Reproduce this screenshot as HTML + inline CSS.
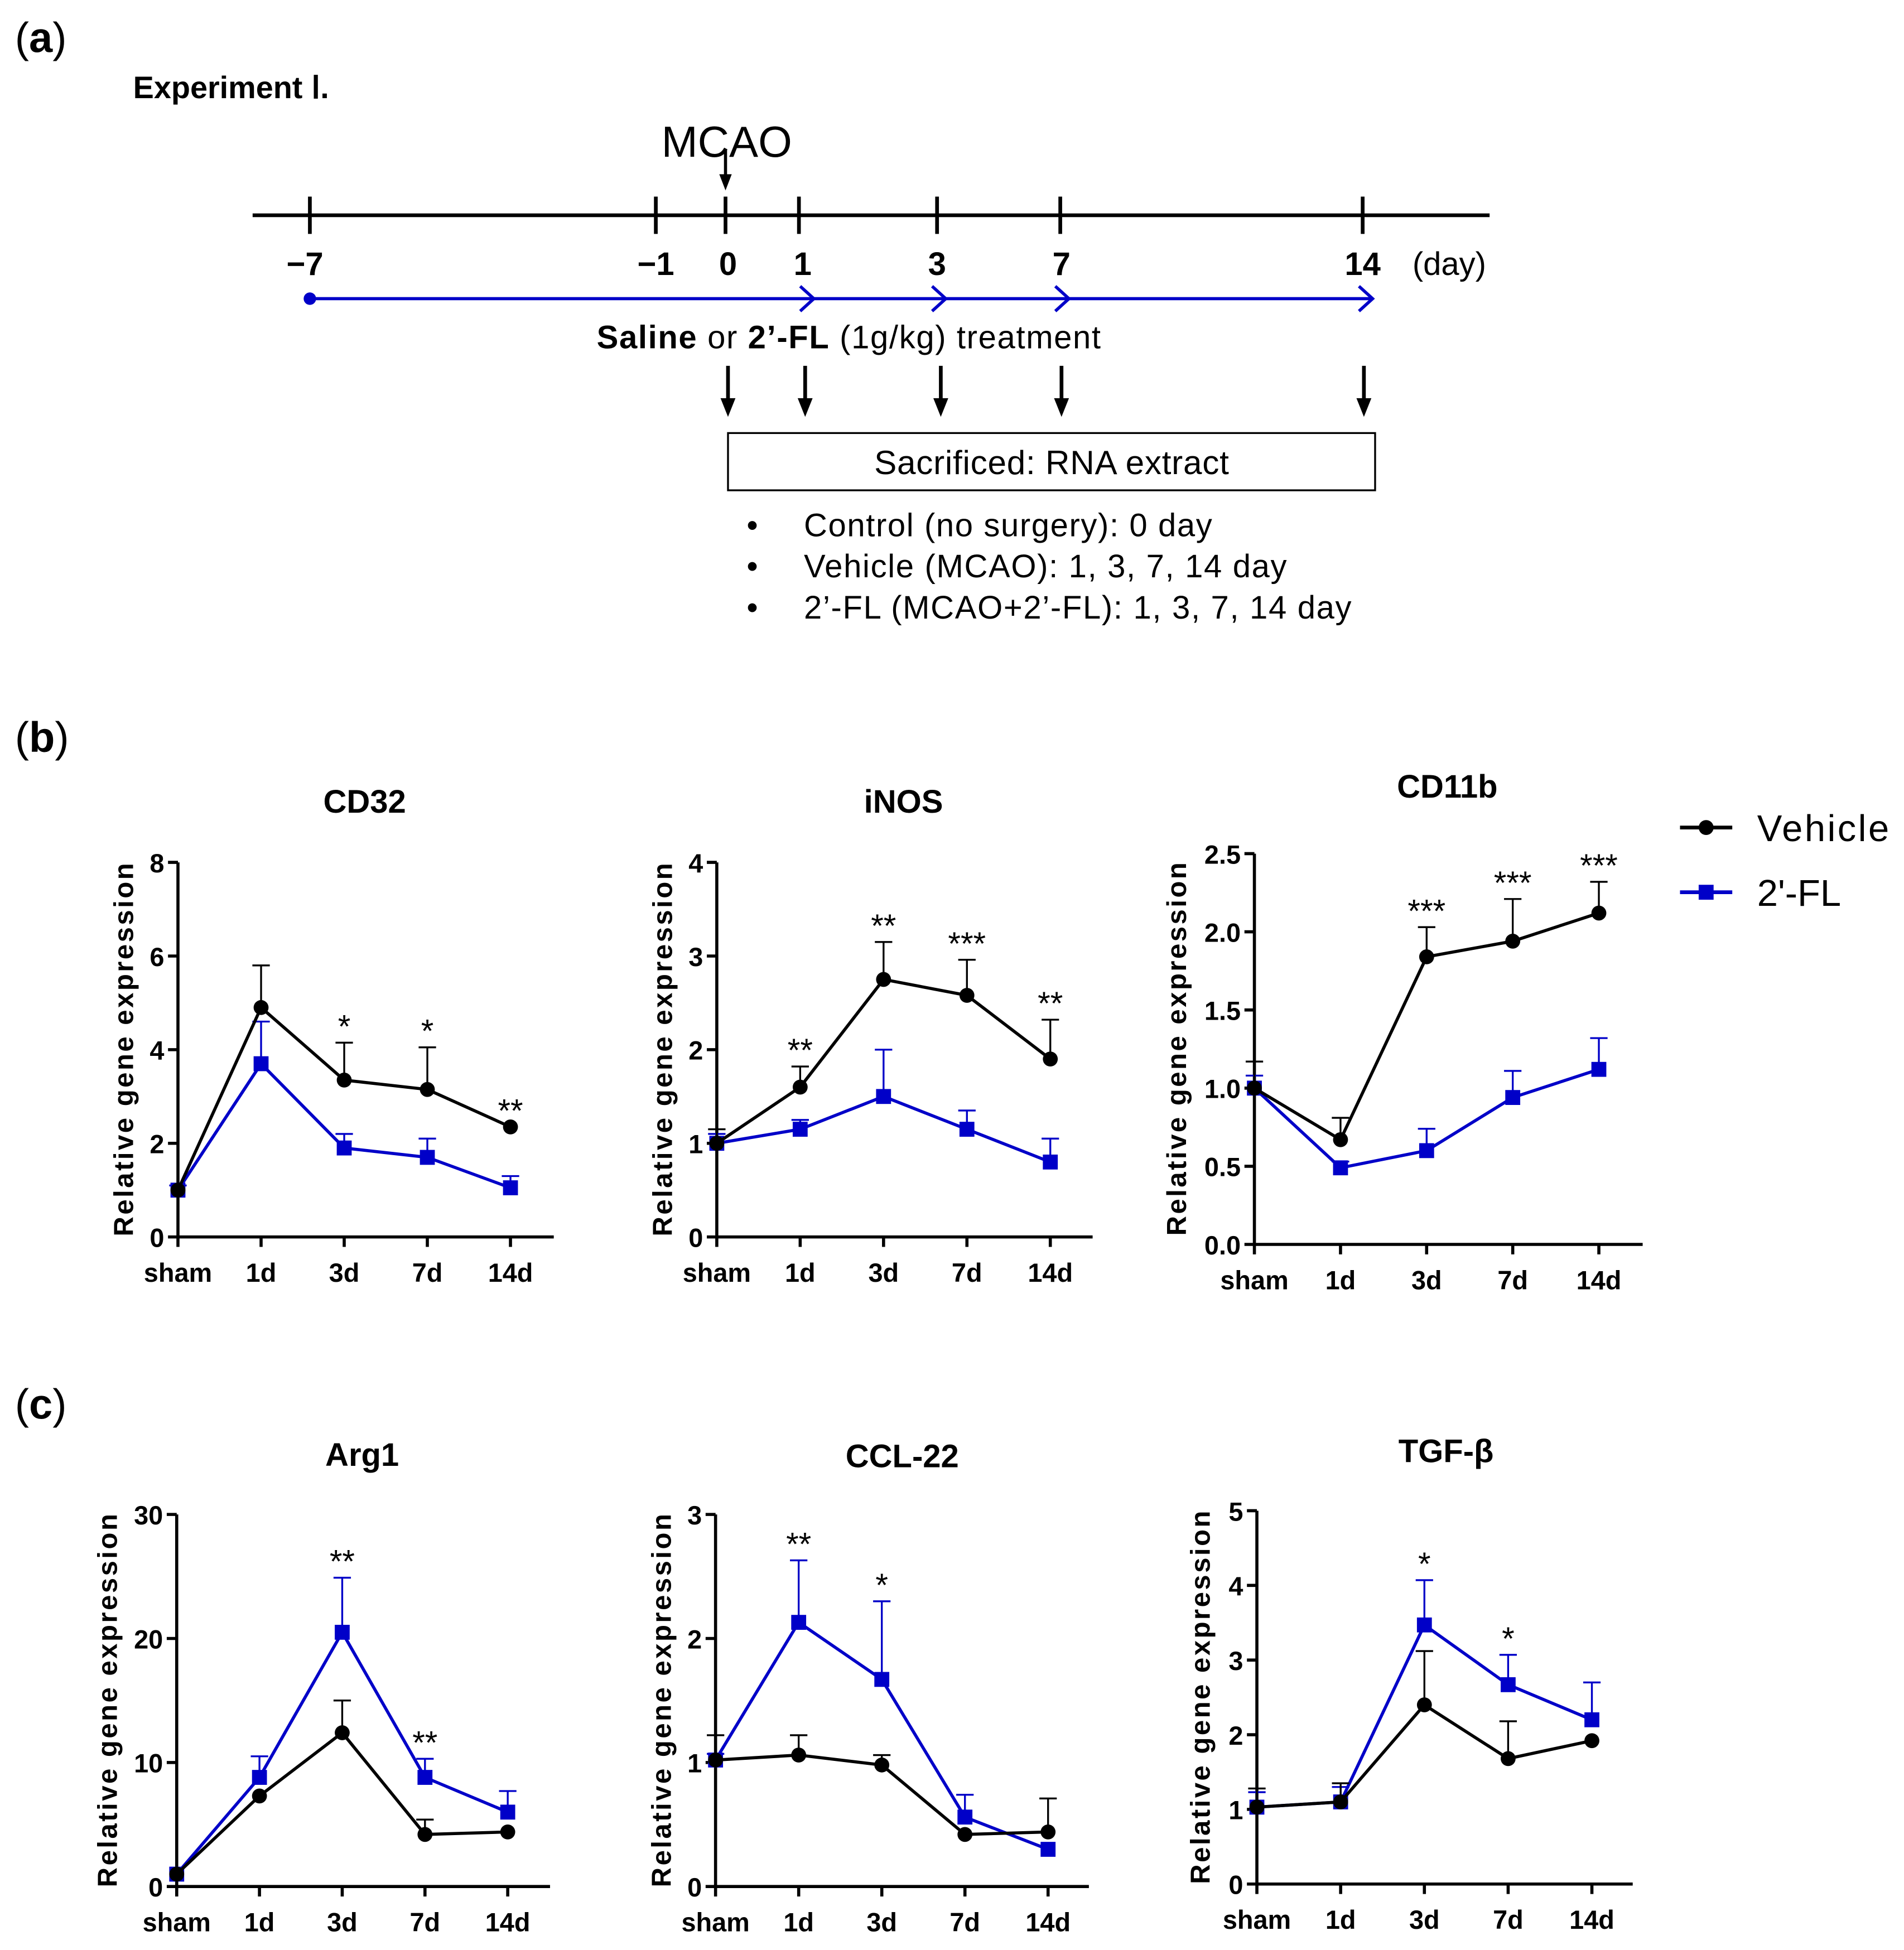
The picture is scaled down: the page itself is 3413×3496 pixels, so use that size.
<!DOCTYPE html>
<html><head><meta charset="utf-8"><style>
html,body{margin:0;padding:0;background:#fff}
svg{display:block}
text{font-family:"Liberation Sans",Arial,sans-serif}
</style></head><body>
<svg id="fig" width="3413" height="3496" viewBox="0 0 1530 1567" preserveAspectRatio="none" xmlns="http://www.w3.org/2000/svg">
<g>
<text x="12" y="42" font-size="34">(<tspan font-weight="bold">a</tspan>)</text>
<text x="107" y="79" font-size="25" font-weight="bold">Experiment Ⅰ.</text>
<text x="584" y="126" font-size="35" text-anchor="middle">MCAO</text>
<line x1="583" y1="120" x2="583" y2="142" stroke="#000" stroke-width="2.5"/>
<polygon points="578,140 588,140 583,153" fill="#000"/>
<line x1="203" y1="173" x2="1197" y2="173" stroke="#000" stroke-width="3"/>
<g stroke="#000" stroke-width="3">
<line x1="249" y1="158" x2="249" y2="188"/><line x1="527" y1="158" x2="527" y2="188"/><line x1="583" y1="158" x2="583" y2="188"/><line x1="642" y1="158" x2="642" y2="188"/><line x1="753" y1="158" x2="753" y2="188"/><line x1="852" y1="158" x2="852" y2="188"/><line x1="1095" y1="158" x2="1095" y2="188"/>
</g>
<g font-size="26" font-weight="bold" text-anchor="middle">
<text x="245" y="221">−7</text><text x="527" y="221">−1</text><text x="585" y="221">0</text><text x="645" y="221">1</text><text x="753" y="221">3</text><text x="853" y="221">7</text><text x="1095" y="221">14</text>
</g>
<text x="1135" y="221" font-size="26">(day)</text>
<line x1="249" y1="240" x2="1103" y2="240" stroke="#0000c8" stroke-width="2.5"/>
<circle cx="249" cy="240" r="5" fill="#0000c8"/>
<g fill="none" stroke="#0000c8" stroke-width="2.5">
<polyline points="643,230 654,240 643,250"/><polyline points="749,230 760,240 749,250"/><polyline points="848,230 859,240 848,250"/><polyline points="1092,230 1103,240 1092,250"/>
</g>
<text x="682" y="280" font-size="26" text-anchor="middle" textLength="405"><tspan font-weight="bold">Saline</tspan> or <tspan font-weight="bold">2’-FL</tspan> (1g/kg) treatment</text>
<g stroke="#000" stroke-width="3">
<line x1="585" y1="294" x2="585" y2="322"/><line x1="647" y1="294" x2="647" y2="322"/><line x1="756" y1="294" x2="756" y2="322"/><line x1="853" y1="294" x2="853" y2="322"/><line x1="1096" y1="294" x2="1096" y2="322"/>
</g>
<g fill="#000">
<polygon points="579,320 591,320 585,335"/><polygon points="641,320 653,320 647,335"/><polygon points="750,320 762,320 756,335"/><polygon points="847,320 859,320 853,335"/><polygon points="1090,320 1102,320 1096,335"/>
</g>
<rect x="585" y="348" width="520" height="46" fill="none" stroke="#000" stroke-width="1.5"/>
<text x="845" y="381" font-size="27" text-anchor="middle" textLength="285">Sacrificed: RNA extract</text>
<g font-size="26">
<text x="600" y="431">•</text><text x="646" y="431" textLength="328">Control (no surgery): 0 day</text>
<text x="600" y="464">•</text><text x="646" y="464" textLength="388">Vehicle (MCAO): 1, 3, 7, 14 day</text>
<text x="600" y="497">•</text><text x="646" y="497" textLength="440">2’-FL (MCAO+2’-FL): 1, 3, 7, 14 day</text>
</g>
</g>
<text x="12" y="604" font-size="34">(<tspan font-weight="bold">b</tspan>)</text>
<text x="12" y="1140" font-size="34">(<tspan font-weight="bold">c</tspan>)</text>
<g>
<line x1="1350" y1="665" x2="1392" y2="665" stroke="#000" stroke-width="3"/><circle cx="1371" cy="665" r="6" fill="#000"/>
<text x="1412" y="676" font-size="30" textLength="106">Vehicle</text>
<line x1="1350" y1="717" x2="1392" y2="717" stroke="#0000c8" stroke-width="3"/><rect x="1365" y="711" width="12" height="12" fill="#0000c8"/>
<text x="1412" y="728" font-size="30">2'-FL</text>
</g>
</svg>
<script>
const categories = ["sham","1d","3d","7d","14d"];
const cd32Veh=[1.0,4.9,3.35,3.15,2.35], cd32VehErr=[0,0.9,0.8,0.9,0];
const cd32Fl=[1.0,3.7,1.9,1.7,1.05], cd32FlErr=[0.1,0.9,0.3,0.4,0.25];
const cd32Stars=["","","*","*","**"], cd32Ticks=["0","2","4","6","8"];
const inosVeh=[1.0,1.6,2.75,2.58,1.9], inosVehErr=[0.15,0.22,0.4,0.38,0.42];
const inosFl=[1.0,1.15,1.5,1.15,0.8], inosFlErr=[0.1,0.1,0.5,0.2,0.25];
const inosStars=["","**","**","***","**"], inosTicks=["0","1","2","3","4"];
const cd11Veh=[1.0,0.67,1.84,1.94,2.12], cd11VehErr=[0.17,0.14,0.19,0.27,0.2];
const cd11Fl=[1.0,0.49,0.6,0.94,1.12], cd11FlErr=[0.08,0.04,0.14,0.17,0.2];
const cd11Stars=["","","***","***","***"], cd11Ticks=["0.0","0.5","1.0","1.5","2.0","2.5"];
const argVeh=[1,7.3,12.4,4.2,4.4], argVehErr=[0,0,2.6,1.2,0];
const argFl=[1,8.8,20.5,8.8,6.0], argFlErr=[0,1.7,4.4,1.5,1.7];
const argStars=["","","**","**",""], argTicks=["0","10","20","30"];
const cclVeh=[1.02,1.06,0.98,0.42,0.44], cclVehErr=[0.2,0.16,0.08,0,0.27];
const cclFl=[1.02,2.13,1.67,0.56,0.3], cclFlErr=[0.05,0.5,0.63,0.18,0];
const cclStars=["","**","*","",""], cclTicks=["0","1","2","3"];
const tgfVeh=[1.03,1.1,2.4,1.68,1.92], tgfVehErr=[0.25,0.25,0.72,0.5,0];
const tgfFl=[1.03,1.1,3.47,2.67,2.2], tgfFlErr=[0.2,0.2,0.6,0.4,0.5];
const tgfStars=["","","*","*",""], tgfTicks=["0","1","2","3","4","5"];

const NS="http://www.w3.org/2000/svg";
const fig=document.getElementById('fig');
function mk(p,tag,at,txt){const e=document.createElementNS(NS,tag);for(const k in at)e.setAttribute(k,at[k]);if(txt!==undefined)e.textContent=txt;p.appendChild(e);return e;}
function chart(name,title,cfg,veh,vehE,fl,flE,stars,ticks){
  const g=mk(fig,'g',{});
  
  
  const x0=cfg.x0,step=cfg.step,yb=cfg.yb,yt=cfg.yt,ymax=parseFloat(ticks[ticks.length-1]);
  const X=i=>x0+i*step, Y=v=>yb-(v/ymax)*(yb-yt);
  const t=mk(g,'text',{x:cfg.tx,y:cfg.ty,'font-size':26,'font-weight':'bold','text-anchor':'middle'},title);
  
  
  mk(g,'line',{x1:x0,y1:yt,x2:x0,y2:yb,stroke:'#000','stroke-width':2.5});
  mk(g,'line',{x1:x0,y1:yb,x2:cfg.xe,y2:yb,stroke:'#000','stroke-width':2.5});
  ticks.forEach(tk=>{const y=Y(parseFloat(tk));
    mk(g,'line',{x1:x0-8,y1:y,x2:x0,y2:y,stroke:'#000','stroke-width':2.5});
    mk(g,'text',{x:x0-11,y:y+8,'font-size':21,'font-weight':'bold','text-anchor':'end'},tk);});
  categories.forEach((c,i)=>{mk(g,'line',{x1:X(i),y1:yb,x2:X(i),y2:yb+8,stroke:'#000','stroke-width':2.5});
    mk(g,'text',{x:X(i),y:yb+36,'font-size':21,'font-weight':'bold','text-anchor':'middle'},c);});
  const yl=mk(g,'text',{x:0,y:0,'font-size':22,'font-weight':'bold','text-anchor':'middle',textLength:300,lengthAdjust:'spacing',transform:`translate(${x0-cfg.off},${(yt+yb)/2}) rotate(-90)`},'Relative gene expression');
  
  
  [[fl,flE,'#0000c8','sq'],[veh,vehE,'#000','ci']].forEach(([d,e,col,m])=>{
    d.forEach((v,i)=>{if(e[i]>0){mk(g,'line',{x1:X(i),y1:Y(v),x2:X(i),y2:Y(v+e[i]),stroke:col,'stroke-width':1.5});
      mk(g,'line',{x1:X(i)-7,y1:Y(v+e[i]),x2:X(i)+7,y2:Y(v+e[i]),stroke:col,'stroke-width':1.5});}});
    const pl=mk(g,'polyline',{points:d.map((v,i)=>X(i)+','+Y(v)).join(' '),fill:'none',stroke:col,'stroke-width':2.5});
    
    
    d.forEach((v,i)=>{let p;
      if(m==='sq')p=mk(g,'rect',{x:X(i)-6,y:Y(v)-6,width:12,height:12,fill:col});
      else p=mk(g,'circle',{cx:X(i),cy:Y(v),r:6,fill:col});
      
      });
  });
  stars.forEach((s,i)=>{if(!s)return;
    const top=Math.max(veh[i]+vehE[i],fl[i]+flE[i]);
    mk(g,'text',{x:X(i),y:Y(top)-4,'font-size':26,'text-anchor':'middle'},s);});
}
chart('cd32','CD32',{x0:143,step:66.8,yb:994,yt:693,xe:445,tx:293,ty:653,off:36},cd32Veh,cd32VehErr,cd32Fl,cd32FlErr,cd32Stars,cd32Ticks);
chart('inos','iNOS',{x0:576,step:67,yb:994,yt:693,xe:878,tx:726,ty:653,off:36},inosVeh,inosVehErr,inosFl,inosFlErr,inosStars,inosTicks);
chart('cd11b','CD11b',{x0:1008,step:69.2,yb:1000,yt:686,xe:1320,tx:1163,ty:641,off:55},cd11Veh,cd11VehErr,cd11Fl,cd11FlErr,cd11Stars,cd11Ticks);
chart('arg1','Arg1',{x0:142,step:66.5,yb:1516,yt:1217,xe:442,tx:291,ty:1178,off:48},argVeh,argVehErr,argFl,argFlErr,argStars,argTicks);
chart('ccl22','CCL-22',{x0:575,step:66.8,yb:1516,yt:1217,xe:875,tx:725,ty:1179,off:36},cclVeh,cclVehErr,cclFl,cclFlErr,cclStars,cclTicks);
chart('tgfb','TGF-β',{x0:1010,step:67.3,yb:1514,yt:1214,xe:1312,tx:1162,ty:1175,off:38},tgfVeh,tgfVehErr,tgfFl,tgfFlErr,tgfStars,tgfTicks);
</script>
</body></html>
